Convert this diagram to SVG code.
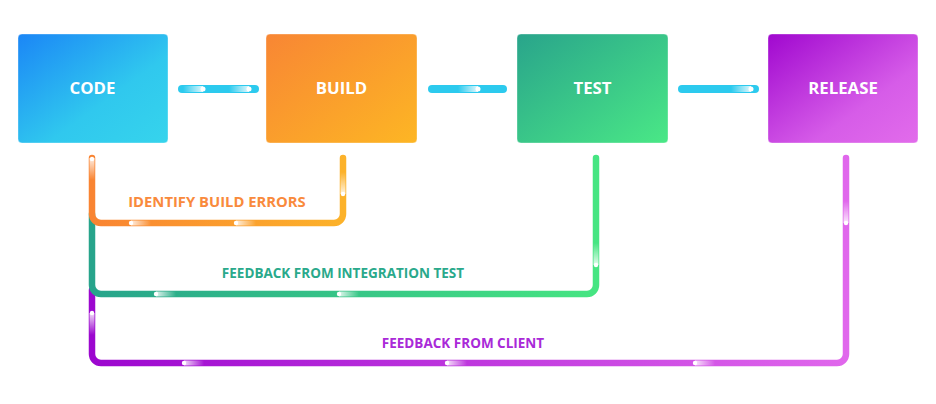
<svg xmlns="http://www.w3.org/2000/svg" width="936" height="404" viewBox="0 0 936 404">
<defs>
<linearGradient id="gCode" x1="0" y1="0" x2="1" y2="1"><stop offset="0" stop-color="#1b86f6"/><stop offset="0.6" stop-color="#30c8ee"/><stop offset="1" stop-color="#36d4ec"/></linearGradient>
<linearGradient id="gBuild" x1="0" y1="0" x2="1" y2="1"><stop offset="0" stop-color="#f88634"/><stop offset="1" stop-color="#fdb624"/></linearGradient>
<linearGradient id="gTest" x1="0" y1="0" x2="1" y2="1"><stop offset="0" stop-color="#29a48b"/><stop offset="1" stop-color="#4ae886"/></linearGradient>
<linearGradient id="gRel" x1="0" y1="0" x2="1" y2="1"><stop offset="0" stop-color="#a008cf"/><stop offset="0.65" stop-color="#d65ce8"/><stop offset="1" stop-color="#e26ceb"/></linearGradient>
<linearGradient id="lOr" gradientUnits="userSpaceOnUse" x1="92" y1="0" x2="343" y2="0"><stop offset="0" stop-color="#f98432"/><stop offset="1" stop-color="#fcb22a"/></linearGradient>
<linearGradient id="lGr" gradientUnits="userSpaceOnUse" x1="92" y1="0" x2="596" y2="0"><stop offset="0" stop-color="#27a48b"/><stop offset="1" stop-color="#46e582"/></linearGradient>
<linearGradient id="lPu" gradientUnits="userSpaceOnUse" x1="92" y1="0" x2="846" y2="0"><stop offset="0" stop-color="#9c07cf"/><stop offset="1" stop-color="#e067ec"/></linearGradient>
<linearGradient id="tR" x1="0" y1="0" x2="1" y2="0"><stop offset="0" stop-color="#fff" stop-opacity="0.85"/><stop offset="1" stop-color="#fff" stop-opacity="0"/></linearGradient>
<linearGradient id="tL" x1="0" y1="0" x2="1" y2="0"><stop offset="0" stop-color="#fff" stop-opacity="0"/><stop offset="1" stop-color="#fff" stop-opacity="0.85"/></linearGradient>
<linearGradient id="tU" x1="0" y1="0" x2="0" y2="1"><stop offset="0" stop-color="#fff" stop-opacity="0"/><stop offset="1" stop-color="#fff" stop-opacity="0.85"/></linearGradient>
<linearGradient id="tD" x1="0" y1="0" x2="0" y2="1"><stop offset="0" stop-color="#fff" stop-opacity="0.85"/><stop offset="1" stop-color="#fff" stop-opacity="0"/></linearGradient>
</defs>
<style>
.box{stroke:#ffffff;stroke-opacity:0.35;stroke-width:1}
.bt{font-family:"Open Sans","Liberation Sans",sans-serif;font-weight:700;font-size:16.8px;fill:#ffffff;text-anchor:middle}
.lt{font-family:"Open Sans","Liberation Sans",sans-serif;font-weight:700;font-size:13.5px}
.loop{fill:none;stroke-width:6.5;stroke-linecap:round;stroke-linejoin:round}
.link{stroke:#2ccaee;stroke-width:8;stroke-linecap:round}
.dot{fill:#ffffff}
</style>
<g id="connectors">
<line class="link" x1="182" y1="89" x2="255" y2="89"/>
<line class="link" x1="432" y1="89" x2="503" y2="89"/>
<line class="link" x1="682" y1="89" x2="755" y2="89"/>
<path class="loop" stroke="url(#lPu)" d="M92 290 V354 A9 9 0 0 0 101 363 H837 A9 9 0 0 0 846 354 V158"/>
<path class="loop" stroke="url(#lGr)" d="M92 214 V285 A9 9 0 0 0 101 294 H587 A9 9 0 0 0 596 285 V158"/>
<path class="loop" stroke="url(#lOr)" d="M92 158 V214 A9 9 0 0 0 101 223 H334 A9 9 0 0 0 343 214 V158"/>
<g id="flow">
<rect x="183" y="86" width="20" height="6" fill="url(#tL)"/><circle class="dot" cx="203" cy="89" r="2.5"/>
<rect x="229" y="86" width="20" height="6" fill="url(#tL)"/><circle class="dot" cx="249" cy="89" r="2.5"/>
<rect x="458" y="86" width="20" height="6" fill="url(#tL)"/><circle class="dot" cx="478" cy="89" r="2.5"/>
<rect x="731" y="86" width="20" height="6" fill="url(#tL)"/><circle class="dot" cx="751" cy="89" r="2.5"/>
<rect x="89.5" y="158" width="5" height="22" fill="url(#tD)"/><circle class="dot" cx="92" cy="159" r="2.2"/>
<rect x="131" y="220.5" width="20" height="5" fill="url(#tR)"/><circle class="dot" cx="131" cy="223" r="2.2"/>
<rect x="236" y="220.5" width="20" height="5" fill="url(#tR)"/><circle class="dot" cx="236" cy="223" r="2.2"/>
<rect x="340.5" y="172" width="5" height="22" fill="url(#tU)"/><circle class="dot" cx="343" cy="194" r="2.2"/>
<rect x="156" y="291.5" width="20" height="5" fill="url(#tR)"/><circle class="dot" cx="156" cy="294" r="2.2"/>
<rect x="339" y="291.5" width="20" height="5" fill="url(#tR)"/><circle class="dot" cx="339" cy="294" r="2.2"/>
<rect x="593.5" y="243" width="5" height="22" fill="url(#tU)"/><circle class="dot" cx="596" cy="265" r="2.2"/>
<rect x="89.5" y="313" width="5" height="22" fill="url(#tD)"/><circle class="dot" cx="92" cy="313" r="2.2"/>
<rect x="184" y="360.5" width="20" height="5" fill="url(#tR)"/><circle class="dot" cx="184" cy="363" r="2.2"/>
<rect x="447" y="360.5" width="20" height="5" fill="url(#tR)"/><circle class="dot" cx="447" cy="363" r="2.2"/>
<rect x="695" y="360.5" width="20" height="5" fill="url(#tR)"/><circle class="dot" cx="695" cy="363" r="2.2"/>
<rect x="843.5" y="201" width="5" height="22" fill="url(#tU)"/><circle class="dot" cx="846" cy="223" r="2.2"/>
</g>
<text class="lt" x="217" y="207" fill="#f98a3c" text-anchor="middle" style="font-size:14.8px">IDENTIFY BUILD ERRORS</text>
<text class="lt" x="343" y="278" fill="#2aa98b" text-anchor="middle">FEEDBACK FROM INTEGRATION TEST</text>
<text class="lt" x="463" y="348" fill="#a92ad8" text-anchor="middle">FEEDBACK FROM CLIENT</text>
</g>
<g id="code"><rect class="box" x="18" y="34" width="150" height="109" rx="4" fill="url(#gCode)"/><text class="bt" x="92.5" y="94">CODE</text></g>
<g id="build"><rect class="box" x="266" y="34" width="151" height="109" rx="4" fill="url(#gBuild)"/><text class="bt" x="341.5" y="94">BUILD</text></g>
<g id="test"><rect class="box" x="517" y="34" width="151" height="109" rx="4" fill="url(#gTest)"/><text class="bt" x="592.5" y="94">TEST</text></g>
<g id="release"><rect class="box" x="768" y="34" width="150" height="109" rx="4" fill="url(#gRel)"/><text class="bt" x="843" y="94">RELEASE</text></g>
</svg>
